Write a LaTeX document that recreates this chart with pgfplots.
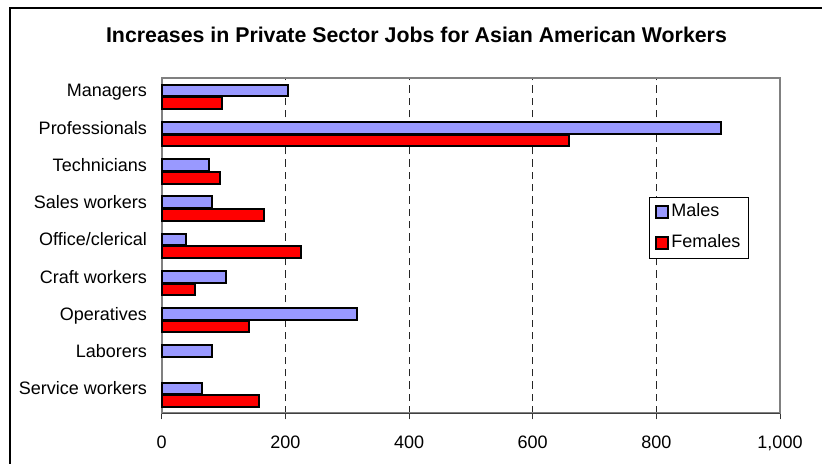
\documentclass[border=0pt]{standalone}
\usepackage{pgfplots}
\pgfplotsset{compat=1.18}
\usepackage{fontspec}
\setmainfont{Liberation Sans}
\definecolor{malec}{HTML}{9999FF}
\definecolor{femc}{HTML}{FF0000}
\pgfplotsset{sqlegend/.style={legend image code/.code={\draw[##1,line width=1.4pt] (0.5pt,-4.4pt) rectangle (9pt,4.4pt);}}}
\begin{document}
\begin{tikzpicture}[x=0.75pt,y=0.75pt]
\useasboundingbox (0,0) rectangle (822,464);
\draw[line width=1.5pt] (10,-10) -- (10,456) -- (840,456);
\node[anchor=base, font=\fontsize{16}{19}\selectfont\bfseries] at (416.5,421) {Increases in Private Sector Jobs for Asian American Workers};
\begin{axis}[
  at={(121.3pt,37.9pt)}, anchor=south west,
  scale only axis, width=463.7pt, height=251.4pt,
  xmin=0, xmax=1000, ymin=-0.5, ymax=8.5,
  clip=false,
  xbar, bar width=8.8pt,
  xtick={0,200,400,600,800,1000},
  xticklabels={0,200,400,600,800,{1,000}},
  ytick={0,...,8},
  yticklabels={Service workers,Laborers,Operatives,Craft workers,Office/clerical,Sales workers,Technicians,Professionals,Managers},
  tick pos=left, tick align=outside,
  major tick length=4.5pt,
  ytick style={draw=none},
  xtick style={black!80, line width=0.75pt},
  ticklabel style={font=\fontsize{13.5}{16}\selectfont},
  yticklabel style={anchor=base east, inner sep=0pt, xshift=-6.5pt},
  xticklabel style={anchor=base, inner sep=0pt, yshift=-21.5pt},
  xmajorgrids,
  major grid style={black!85, dash pattern=on 5.5pt off 3.75pt, line width=0.75pt},
  axis line style={gray, line width=1.5pt},
  legend style={at={(0.788,0.647)}, anchor=north west, draw=black, line width=0.75pt,
    font=\fontsize{13.5}{16}\selectfont, inner xsep=4.5pt, inner ysep=3.4pt, row sep=7pt,
    nodes={inner sep=2pt, text height=9.5pt, text depth=2.5pt}},
  legend cell align=left,
]
\addplot[xbar, bar shift=4.7pt, fill=malec, draw=black, line width=1.5pt, sqlegend]
  coordinates {(205,8) (904,7) (76,6) (81,5) (39,4) (104,3) (316,2) (81,1) (65,0)};
\addplot[xbar, bar shift=-4.7pt, fill=femc, draw=black, line width=1.5pt, sqlegend]
  coordinates {(97,8) (658,7) (95,6) (165,5) (226,4) (54,3) (141,2) (157,0)};
\legend{Males,Females}
\draw[black!75, line width=1.2pt] (axis cs:0,-0.5) -- (axis cs:1000,-0.5);
\end{axis}
\end{tikzpicture}
\end{document}
